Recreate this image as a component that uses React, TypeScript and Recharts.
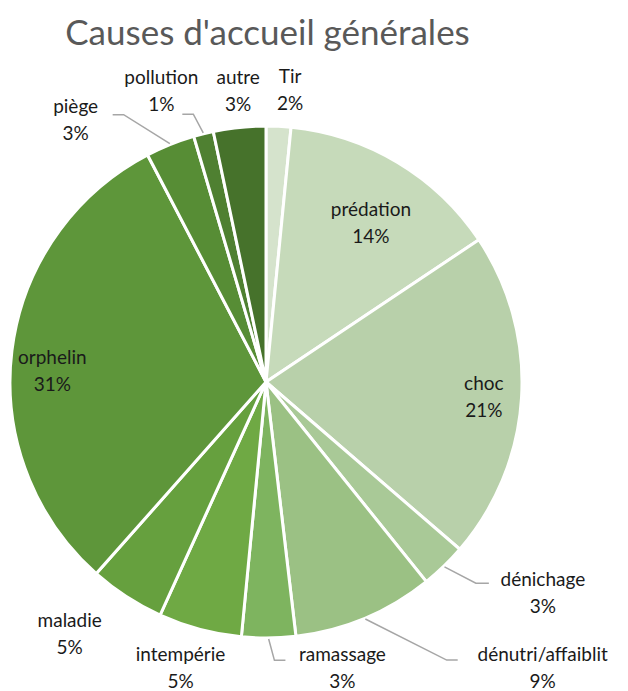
import { Pie, PieChart, Cell } from "recharts";

const causes = [
  "Tir",
  "prédation",
  "choc",
  "dénichage",
  "dénutri/affaiblit",
  "ramassage",
  "intempérie",
  "maladie",
  "orphelin",
  "piège",
  "pollution",
  "autre",
];
const shares = [1.56, 14.06, 20.7, 2.9, 8.9, 3.4, 5.25, 4.75, 30.8, 3.1, 1.25, 3.3];
const colors = [
  "#D5E3CC",
  "#C6DABA",
  "#B8D0AA",
  "#A9C997",
  "#9BC184",
  "#7EB45F",
  "#6FA944",
  "#66A03E",
  "#5E963A",
  "#578D35",
  "#4F8031",
  "#46722B",
];

// label placement: radius factor, angle nudge (deg, clockwise), optional leader elbow/end offsets
const labelPlace: { r: number; nudge: number; leader?: [number, number, number] }[] = [
  { r: 1.145, nudge: 1.9 },
  { r: 0.746, nudge: 2.4 },
  { r: 0.853, nudge: 0.4 },
  { r: 1.358, nudge: -8.8, leader: [-67, -54, -9] },
  { r: 1.552, nudge: -21.4, leader: [-96, -85, -7] },
  { r: 1.154, nudge: -14.4, leader: [-68, -57, -7] },
  { r: 1.163, nudge: 1.7 },
  { r: 1.246, nudge: 5 },
  { r: 0.836, nudge: -4 },
  { r: 1.266, nudge: -14, leader: [48, 37, -5] },
  { r: 1.211, nudge: -5.6, leader: [32, 21, 24] },
  { r: 1.145, nudge: 0.5 },
];

const data = causes.map((name, i) => ({ name, value: shares[i] }));

const FONT = "Lato, 'Open Sans', sans-serif";

function renderLabel(props: any) {
  const { cx, cy, midAngle, outerRadius, percent, index, name } = props;
  const spec = labelPlace[index];
  const theta = ((90 - midAngle + spec.nudge) * Math.PI) / 180;
  const lx = cx + outerRadius * spec.r * Math.sin(theta);
  const ly = cy - outerRadius * spec.r * Math.cos(theta);
  let line = null;
  if (spec.leader) {
    const m = ((90 - midAngle) * Math.PI) / 180;
    const sx = cx + (outerRadius + 1) * Math.sin(m);
    const sy = cy - (outerRadius + 1) * Math.cos(m);
    const [ex, endx, dy] = spec.leader;
    line = (
      <polyline
        points={`${sx},${sy} ${lx + ex},${ly + dy} ${lx + endx},${ly + dy}`}
        fill="none"
        stroke="#A6A6A6"
        strokeWidth={1.5}
      />
    );
  }
  return (
    <g key={`lbl-${index}`}>
      {line}
      <text
        x={lx}
        y={ly - 14}
        textAnchor="middle"
        dominantBaseline="central"
        fill="#1a1a1a"
        fontSize={19}
        fontFamily={FONT}
      >
        {name}
      </text>
      <text
        x={lx}
        y={ly + 13}
        textAnchor="middle"
        dominantBaseline="central"
        fill="#1a1a1a"
        fontSize={19}
        fontFamily={FONT}
      >
        {`${Math.round(percent * 100)}%`}
      </text>
    </g>
  );
}

export default function App() {
  return (
    <div
      style={{
        position: "absolute",
        left: 0,
        top: 0,
        width: 628,
        height: 691,
        background: "#fff",
        overflow: "hidden",
      }}
    >
      <div
        style={{
          position: "absolute",
          top: 11,
          left: 0,
          width: 535,
          textAlign: "center",
          fontFamily: FONT,
          fontSize: 35,
          color: "#595959",
          lineHeight: "40px",
        }}
      >
        Causes d'accueil générales
      </div>
      <PieChart width={628} height={691} margin={{ top: 0, right: 0, bottom: 0, left: 0 }}>
        <Pie
          data={data}
          dataKey="value"
          nameKey="name"
          cx={266}
          cy={382}
          outerRadius={256}
          startAngle={90}
          endAngle={-270}
          stroke="#fff"
          strokeWidth={3}
          label={renderLabel}
          labelLine={false}
          isAnimationActive={false}
        >
          {data.map((d, i) => (
            <Cell key={d.name} fill={colors[i]} />
          ))}
        </Pie>
      </PieChart>
    </div>
  );
}
